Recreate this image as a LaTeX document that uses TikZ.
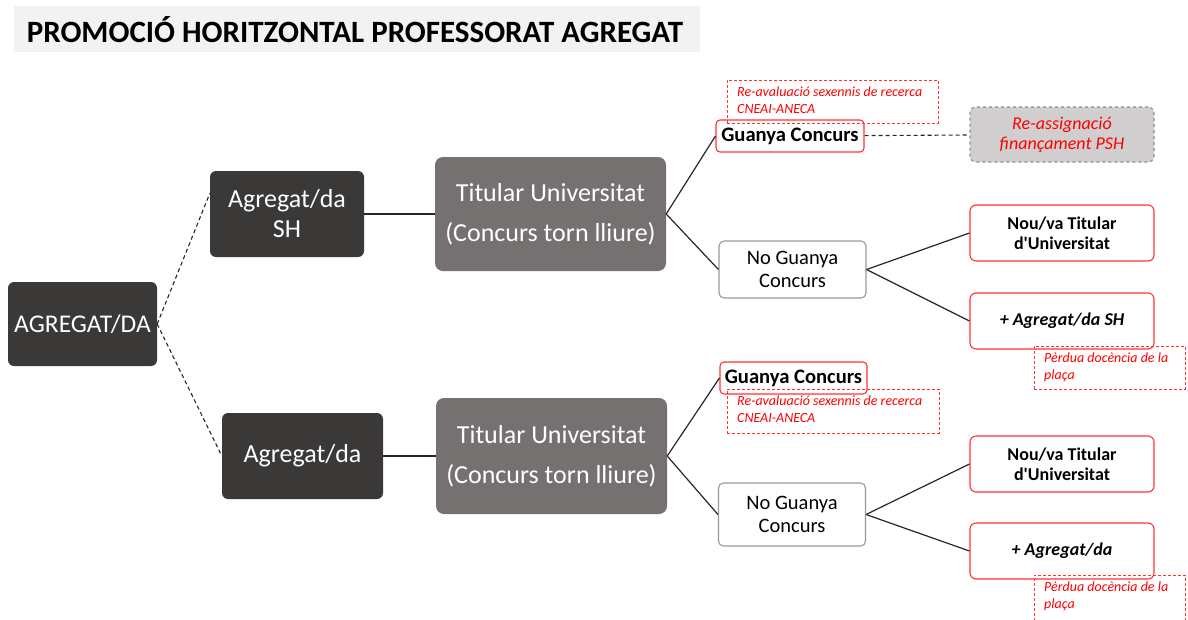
\documentclass[tikz,border=0pt]{standalone}
\usepackage{fontspec}
\setmainfont{Carlito}
\definecolor{darkbox}{HTML}{3B3838}
\definecolor{midbox}{HTML}{757171}
\definecolor{lightbox}{HTML}{D0CECE}
\definecolor{titlebg}{HTML}{F2F2F2}
\definecolor{redline}{HTML}{FF3333}
\definecolor{connline}{HTML}{262626}
\tikzset{
	darkbox/.style={rounded corners=6pt, fill=darkbox, text=white, align=center, inner sep=0pt, font=\fontsize{26}{30}\selectfont},
	titbox/.style={rounded corners=8pt, fill=midbox, text=white, align=center, inner sep=0pt, font=\fontsize{26}{40}\selectfont},
	winbox/.style={rounded corners=4pt, draw=redline, line width=1.1pt, fill=white, inner sep=0pt, font=\bfseries\fontsize{20.6}{24}\selectfont},
	nobox/.style={rounded corners=5pt, draw=gray!80, line width=1.1pt, fill=white, align=center, inner sep=0pt, minimum width=147pt, minimum height=57pt, font=\fontsize{20.5}{23}\selectfont},
	endbox/.style={rounded corners=6pt, draw=redline, line width=1.1pt, fill=white, align=center, inner sep=0pt, minimum width=184pt, minimum height=56pt, font=\bfseries\fontsize{18}{20}\selectfont},
	note/.style={draw=redline, dashed, dash pattern=on 3pt off 2pt, line width=0.8pt, anchor=north west, inner sep=0pt},
	notetext/.style={text=red, anchor=north west, align=left, inner sep=0pt, font=\itshape\fontsize{14}{17}\selectfont},
	conn/.style={draw=connline, line width=1.2pt},
	dconn/.style={draw=connline, line width=1.1pt, dash pattern=on 4pt off 3pt},
}
\begin{document}
\begin{tikzpicture}[x=1pt, y=-1pt]
	
	\useasboundingbox (0,0) rectangle (1188,619);
	
	% title
	\node[fill=titlebg, minimum width=686pt, minimum height=46pt, inner sep=0pt] (title) at (357,29) {};
	\node[font=\bfseries\fontsize{31}{36}\selectfont, inner sep=0pt] (titletext) at (355,30) {PROMOCIÓ HORITZONTAL PROFESSORAT AGREGAT};
	
	% left part
	\node[darkbox, minimum width=149pt, minimum height=84pt, font=\fontsize{25.5}{30}\selectfont] (agr) at (82.5,324) {AGREGAT/DA};
	\node[darkbox, minimum width=154pt, minimum height=86pt] (sh) at (287,214) {Agregat/da\\SH};
	\node[darkbox, minimum width=161pt, minimum height=86pt] (ag) at (302.5,456) {Agregat/da};
	\node[titbox, minimum width=231pt, minimum height=114pt] (tu1) at (550.5,214) {Titular Universitat\\(Concurs torn lliure)};
	\node[titbox, minimum width=231pt, minimum height=116pt] (tu2) at (551.5,456) {Titular Universitat\\(Concurs torn lliure)};
	
	% upper branch
	\node[winbox, minimum width=148pt, minimum height=32pt] (gc1) at (790,136) {Guanya Concurs};
	\node[nobox] (ng1) at (792.5,269.5) {No Guanya\\Concurs};
	\node[rounded corners=6pt, draw=gray!90, dashed, line width=1.1pt, fill=lightbox, text=red, align=center, inner sep=0pt, minimum width=184pt, minimum height=55pt, font=\itshape\fontsize{18}{20}\selectfont] (ra) at (1062,134.5) {Re-assignació\\finançament PSH};
	\node[endbox] (nt1) at (1062,233) {Nou/va Titular\\d\textquotesingle Universitat};
	\node[endbox, font=\bfseries\itshape\fontsize{18}{20}\selectfont] (pa1) at (1062,321) {+ Agregat/da SH};
	
	% lower branch
	\node[winbox, minimum width=147pt, minimum height=32pt] (gc2) at (793.5,378) {Guanya Concurs};
	\node[nobox, minimum height=63pt] (ng2) at (792,514.5) {No Guanya\\Concurs};
	\node[endbox] (nt2) at (1062,464) {Nou/va Titular\\d\textquotesingle Universitat};
	\node[endbox, font=\bfseries\itshape\fontsize{18}{20}\selectfont] (pa2) at (1062,551) {+ Agregat/da};
	
	% notes
	\node[note, minimum width=211pt, minimum height=43pt] (rv1) at (727,80) {};
	\node[notetext] (rv1t) at (737,87) {Re-avaluació sexennis de recerca\\CNEAI-ANECA};
	\node[note, minimum width=212pt, minimum height=44pt] (rv2) at (727,389) {};
	\node[notetext] (rv2t) at (737,396) {Re-avaluació sexennis de recerca\\CNEAI-ANECA};
	\node[note, minimum width=151pt, minimum height=43pt] (pd1) at (1034,346) {};
	\node[notetext] (pd1t) at (1044,353) {Pèrdua docència de la\\plaça};
	\node[note, minimum width=151pt, minimum height=50pt] (pd2) at (1034,575) {};
	\node[notetext] (pd2t) at (1044,582) {Pèrdua docència de la\\plaça};
	
	\path[dconn] (agr.east) edge (sh.165);
	\path[dconn] (agr.east) edge (ag.west);
	\path[conn] (sh) edge (tu1);
	\path[conn] (ag) edge (tu2);
	\path[conn] (tu1.east) edge (gc1.west);
	\path[conn] (tu1.east) edge (ng1.west);
	\path[conn] (tu2.east) edge (gc2.west);
	\path[conn] (tu2.east) edge (ng2.west);
	\path[dconn] (gc1) edge (ra);
	\path[conn] (ng1.east) edge (nt1.west);
	\path[conn] (ng1.east) edge (pa1.west);
	\path[conn] (ng2.east) edge (nt2.west);
	\path[conn] (ng2.east) edge (pa2.west);
	
\end{tikzpicture}
\end{document}
